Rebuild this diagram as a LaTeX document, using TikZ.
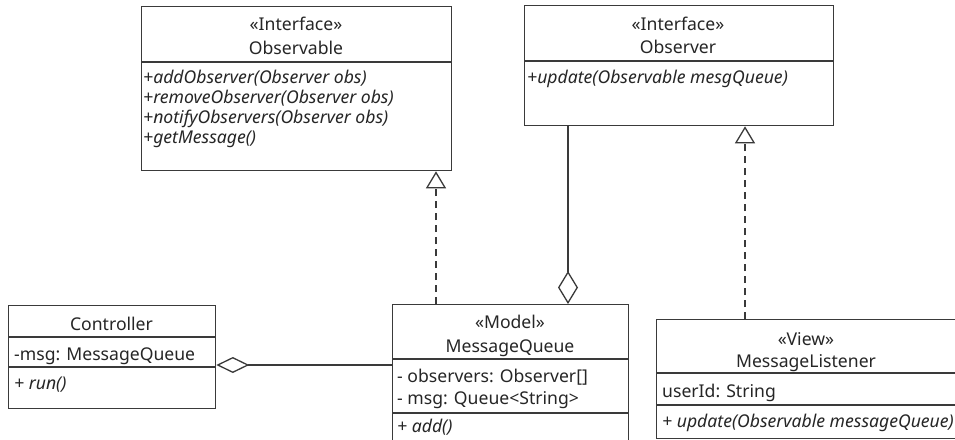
\documentclass[tikz,border=0pt]{standalone}
\usepackage{fontspec}
\setmainfont{Noto Sans}
\usetikzlibrary{arrows.meta}
\definecolor{linec}{HTML}{3A3A3A}
\definecolor{textc}{HTML}{262626}
\begin{document}
\begin{tikzpicture}[x=1pt,y=-1pt,
  umlbox/.style={draw=linec, line width=1.3pt, rectangle, inner sep=0pt, anchor=north west},
  divider/.style={draw=linec, line width=1.3pt},
  hdr/.style={anchor=base, text=textc, inner sep=0pt, font=\fontsize{17.6}{20}\selectfont},
  mem/.style={anchor=base west, text=textc, inner sep=0pt, font=\fontsize{17.6}{20}\selectfont},
  memi/.style={mem, font=\fontsize{17.6}{20}\selectfont\itshape},
  conn/.style={draw=linec, line width=1.3pt},
  realize/.style={conn, dash pattern=on 7pt off 5pt, -{Triangle[open, length=17pt, width=20pt, line width=1.3pt]}},
  aggv/.style={conn, {Diamond[open, length=33pt, width=20pt, line width=1.3pt]}-},
  aggh/.style={conn, {Diamond[open, length=33pt, width=16pt, line width=1.3pt]}-}
]
\useasboundingbox (0,0) rectangle (955,439);
\clip (0,0) rectangle (955,439);
\fill[white] (0,0) rectangle (955,439);

% Observable
\node[umlbox, minimum width=310pt, minimum height=164pt] (observable) at (141,6) {};
\draw[divider] (observable.west |- 0,62) -- (observable.east |- 0,62);
\node[hdr] (obsst) at (296,30) {«Interface»};
\node[hdr] (obsnm) at (296,54) {Observable};
\node[memi] (obsm1) at (143,83) {+addObserver(Observer obs)};
\node[memi] (obsm2) at (143,103) {+removeObserver(Observer obs)};
\node[memi] (obsm3) at (143,123) {+notifyObservers(Observer obs)};
\node[memi] (obsm4) at (143,143) {+getMessage()};

% Observer
\node[umlbox, minimum width=309pt, minimum height=120pt] (observer) at (524,5) {};
\draw[divider] (observer.west |- 0,61) -- (observer.east |- 0,61);
\node[hdr] (obrst) at (678,30) {«Interface»};
\node[hdr] (obrnm) at (678,53) {Observer};
\node[memi] (obrm1) at (527,83) {+update(Observable mesgQueue)};

% Controller
\node[umlbox, minimum width=207pt, minimum height=103pt] (controller) at (8,305) {};
\draw[divider] (controller.west |- 0,337) -- (controller.east |- 0,337);
\draw[divider] (controller.west |- 0,367) -- (controller.east |- 0,367);
\node[hdr] (ctlnm) at (111.5,330) {Controller};
\node[mem] (ctla1) at (14,360) {-msg: MessageQueue};
\node[memi] (ctlm1) at (14,389) {+ run()};

% MessageQueue
\node[umlbox, minimum width=236pt, minimum height=140pt] (mq) at (392,304) {};
\draw[divider] (mq.west |- 0,359) -- (mq.east |- 0,359);
\draw[divider] (mq.west |- 0,413) -- (mq.east |- 0,413);
\node[hdr] (mqst) at (510,328) {«Model»};
\node[hdr] (mqnm) at (510,352) {MessageQueue};
\node[mem] (mqa1) at (397,382) {- observers: Observer[]};
\node[mem] (mqa2) at (397,404) {- msg: Queue<String>};
\node[memi] (mqm1) at (397,432) {+ add()};

% MessageListener
\node[umlbox, minimum width=312pt, minimum height=119pt] (ml) at (656,319) {};
\draw[divider] (ml.west |- 0,373) -- (ml.east |- 0,373);
\draw[divider] (ml.west |- 0,405) -- (ml.east |- 0,405);
\node[hdr] (mlst) at (806,345) {«View»};
\node[hdr] (mlnm) at (806,367) {MessageListener};
\node[mem] (mla1) at (662,397) {userId: String};
\node[memi] (mlm1) at (662,427) {+ update(Observable messageQueue)};

% connectors
\coordinate (xa) at (436,0);
\coordinate (xb) at (568,0);
\coordinate (xc) at (745,0);
\coordinate (ya) at (0,365);
\draw[realize] (xa |- mq.north) -- (xa |- observable.south);
\draw[aggv] (xb |- mq.north) -- (xb |- observer.south);
\draw[realize] (xc |- ml.north) -- (xc |- observer.south);
\draw[aggh] (controller.east |- ya) -- (mq.west |- ya);
\end{tikzpicture}
\end{document}
